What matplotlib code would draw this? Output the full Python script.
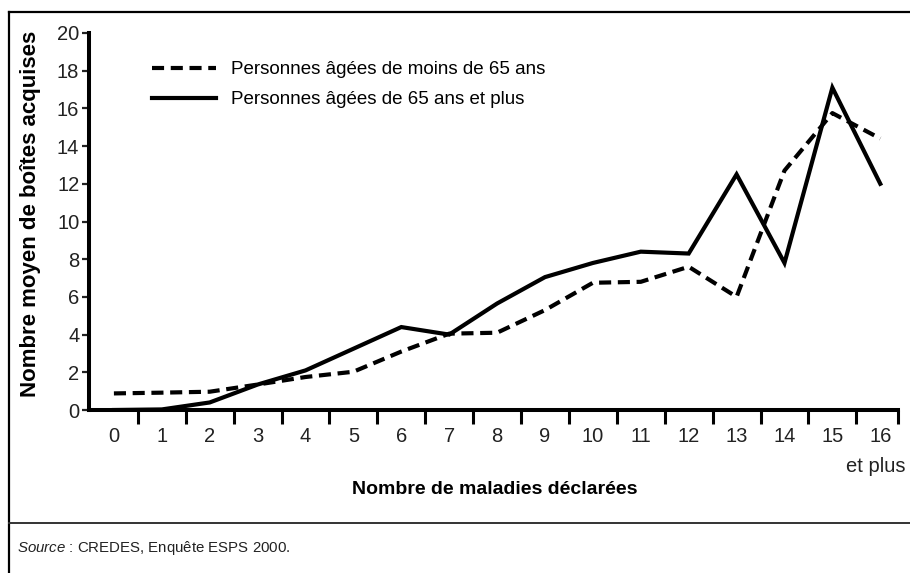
import matplotlib
matplotlib.use("Agg")
import matplotlib.pyplot as plt
from matplotlib.lines import Line2D

plt.rcParams['font.family'] = ['Liberation Sans', 'DejaVu Sans']
plt.rcParams['mathtext.fontset'] = 'custom'
plt.rcParams['mathtext.it'] = 'Liberation Sans:italic'
plt.rcParams['mathtext.rm'] = 'Liberation Sans'

# Data
maladies = list(range(17))
tick_labels = [str(i) for i in maladies]
moins_65 = [0.88, 0.92, 0.97, 1.35, 1.75, 2.03, 3.1, 4.05, 4.1, 5.3, 6.75, 6.8, 7.6, 6.0, 12.7, 15.75, 14.4]
plus_65 = [0.0, 0.03, 0.4, 1.35, 2.1, 3.25, 4.4, 4.0, 5.65, 7.05, 7.8, 8.4, 8.3, 12.5, 7.8, 17.1, 12.0]

label_moins = "Personnes âgées de moins de 65 ans"
label_plus = "Personnes âgées de 65 ans et plus"

fig = plt.figure(figsize=(9.1, 5.73), dpi=100)
ax = fig.add_axes([89 / 910, 1 - 410 / 573, (898 - 89) / 910, (410 - 33) / 573])

ax.plot(maladies, moins_65, color="black", lw=3, linestyle=(0, (2.9, 1.6)),
        solid_joinstyle="miter", label=label_moins)
ax.plot(maladies, plus_65, color="black", lw=3, solid_joinstyle="miter",
        label=label_plus)

ax.set_xlim(-0.52, 16.37)
ax.set_ylim(0, 20)

# y axis
ax.set_yticks(range(0, 21, 2))
ax.tick_params(axis="y", direction="out", length=5, width=1.6, pad=2,
               labelsize=14.5, colors="#222222")

# x axis: labels at category centres, ticks at boundaries
ax.set_xticks(maladies)
ax.set_xticklabels(tick_labels)
ax.set_xticks([i + 0.5 for i in range(16)] + [16.37], minor=True)
ax.tick_params(axis="x", which="major", length=0, pad=12, labelsize=14.5,
               colors="#222222")
ax.tick_params(axis="x", which="minor", direction="out", length=10, width=2.2,
               color="black")
ax.annotate("et plus", xy=(16, 0), xycoords=("data", "axes fraction"),
            xytext=(-3, -41), textcoords="offset points", ha="center", va="center",
            fontsize=14.5, color="#222222")

for side in ["top", "right"]:
    ax.spines[side].set_visible(False)
for side in ["left", "bottom"]:
    ax.spines[side].set_linewidth(2.9)
    ax.spines[side].set_capstyle("projecting")

ax.legend(loc="upper left", bbox_to_anchor=((152 - 89) / 809, (410 - 61) / 377),
          frameon=False, fontsize=13.5, borderpad=0, borderaxespad=0,
          handlelength=3.4, handletextpad=0.8, labelspacing=0.7)

fig.text(31 / 910, 1 - 214 / 573, "Nombre moyen de boîtes acquises", rotation=90,
         ha="center", va="center", fontsize=16, fontweight="bold")
fig.text(495 / 910, 1 - 490 / 573, "Nombre de maladies déclarées",
         ha="center", va="center", fontsize=14, fontweight="bold")

# frame and separator
fig.add_artist(Line2D([9 / 910, 9 / 910], [0, 1 - 12 / 573], color="black", lw=1.6))
fig.add_artist(Line2D([9 / 910, 1], [1 - 12 / 573, 1 - 12 / 573], color="black", lw=1.6))
fig.add_artist(Line2D([9 / 910, 1], [1 - 523 / 573, 1 - 523 / 573], color="#333333", lw=1.4))

fig.text(17 / 910, 1 - 548 / 573, r"$\it{Source}$ : CREDES, Enquête ESPS 2000.",
         fontsize=10.8, ha="left", va="center", color="#222222")

fig.savefig("out.png", dpi=100)
